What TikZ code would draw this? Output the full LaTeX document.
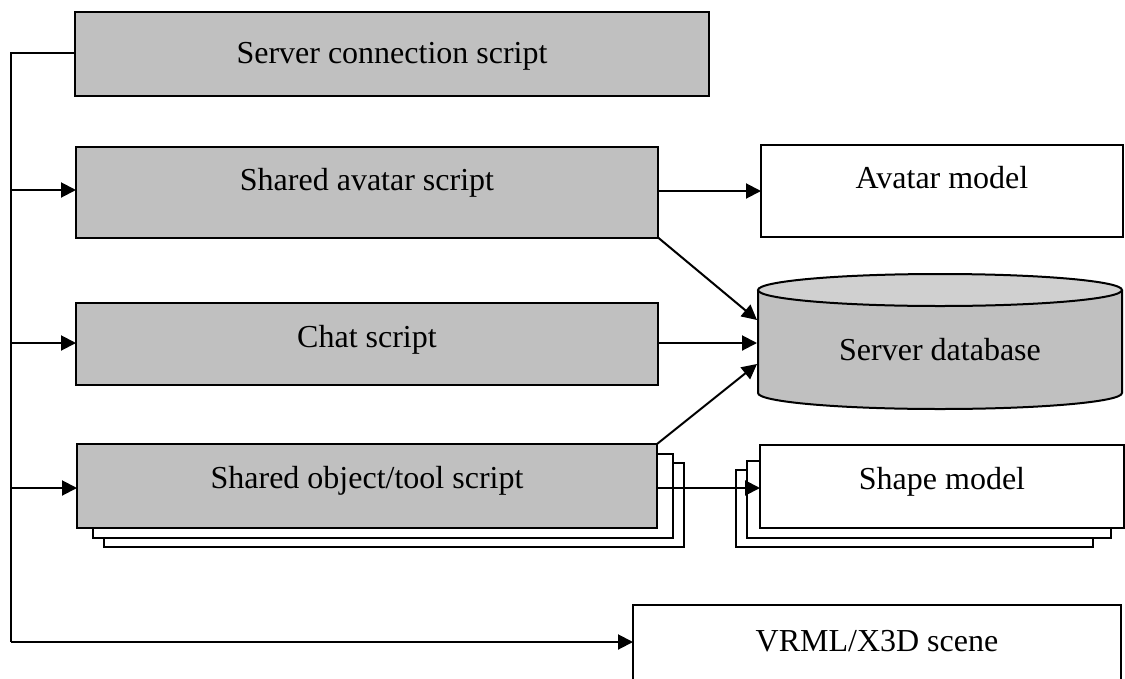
\documentclass[tikz,border=0pt]{standalone}
\usepackage{fontspec}
\setmainfont{Liberation Serif}
\usetikzlibrary{arrows.meta}
\definecolor{boxgray}{HTML}{C0C0C0}
\definecolor{topgray}{HTML}{D0D0D0}
\begin{document}
\begin{tikzpicture}[x=1pt,y=-1pt,
  line width=2pt,
  box/.style={draw=black, line width=2pt, inner sep=0pt, outer sep=0pt},
  gbox/.style={box, fill=boxgray},
  wbox/.style={box, fill=white},
  lbl/.style={font=\fontsize{32}{36}\selectfont, anchor=base, inner sep=0pt},
  arr/.style={-{Triangle[length=15pt,width=15pt]}, line width=2pt}]
\useasboundingbox (0,0) rectangle (1125,678);

% Server connection
\node[gbox, minimum width=634pt, minimum height=84pt] (sc) at (392,54) {};
\node[lbl] (sct) at (392,63) {Server connection script};

% Shared avatar
\node[gbox, minimum width=582pt, minimum height=91pt] (sa) at (367,192) {};
\node[lbl] (sat) at (367,190) {Shared avatar script};

% Avatar model
\node[wbox, minimum width=362pt, minimum height=92pt] (am) at (942,191) {};
\node[lbl] (amt) at (942,188) {Avatar model};

% Chat
\node[gbox, minimum width=582pt, minimum height=82pt] (ch) at (367,344) {};
\node[lbl] (cht) at (367,347) {Chat script};

% Shared object/tool with stacked copies
\node[wbox, minimum width=580pt, minimum height=84pt] (ob2) at (394,505) {};
\node[wbox, minimum width=580pt, minimum height=84pt] (ob1) at (383,496) {};
\node[gbox, minimum width=580pt, minimum height=84pt] (ob) at (367,486) {};
\node[lbl] (obt) at (367,488) {Shared object/tool script};

% Shape model with stacked copies
\node[wbox, minimum width=357pt, minimum height=77pt] (sm2) at (914.5,508.5) {};
\node[wbox, minimum width=364pt, minimum height=77pt] (sm1) at (929,499.5) {};
\node[wbox, minimum width=364pt, minimum height=83pt] (sm) at (942,486.5) {};
\node[lbl] (smt) at (942,489) {Shape model};

% Server database cylinder
\fill[boxgray] (758,290) -- (758,393) arc[start angle=180,end angle=360,x radius=182pt,y radius=16pt] -- (1122,290) -- cycle;
\draw (758,290) -- (758,393) arc[start angle=180,end angle=360,x radius=182pt,y radius=16pt] -- (1122,290);
\draw[fill=topgray] (940,290) ellipse[x radius=182pt, y radius=16pt];
\node[inner sep=0pt, minimum width=364pt, minimum height=136pt] (db) at (940,341) {};
\node[lbl] (dbt) at (940,360) {Server database};

% VRML/X3D scene
\node[wbox, minimum width=488pt, minimum height=100pt] (vr) at (877,655) {};
\node[lbl] (vrt) at (877,651) {VRML/X3D scene};

% Connectors
\coordinate (bus) at (11,53);
\coordinate (busEnd) at (11,642);
\draw (sc.west |- 0,53) -- (bus) -- (busEnd);
\draw[arr] (busEnd) -- (vr.west |- busEnd);
\draw[arr] (11,190) -- (sa.west |- 0,190);
\draw[arr] (11,343) -- (ch.west |- 0,343);
\draw[arr] (11,488) -- (ob.west |- 0,488);

\draw[arr] (sa.east |- 0,191) -- (am.west |- 0,191);
\draw[arr] (sa.south east) -- (db.west |- 0,320);
\draw[arr] (ch.east |- 0,343) -- (db.west |- 0,343);
\draw[arr] (ob.north east) -- (db.west |- 0,364);
\draw[arr] (ob.east |- 0,488) -- (sm.west |- 0,488);
\end{tikzpicture}
\end{document}
